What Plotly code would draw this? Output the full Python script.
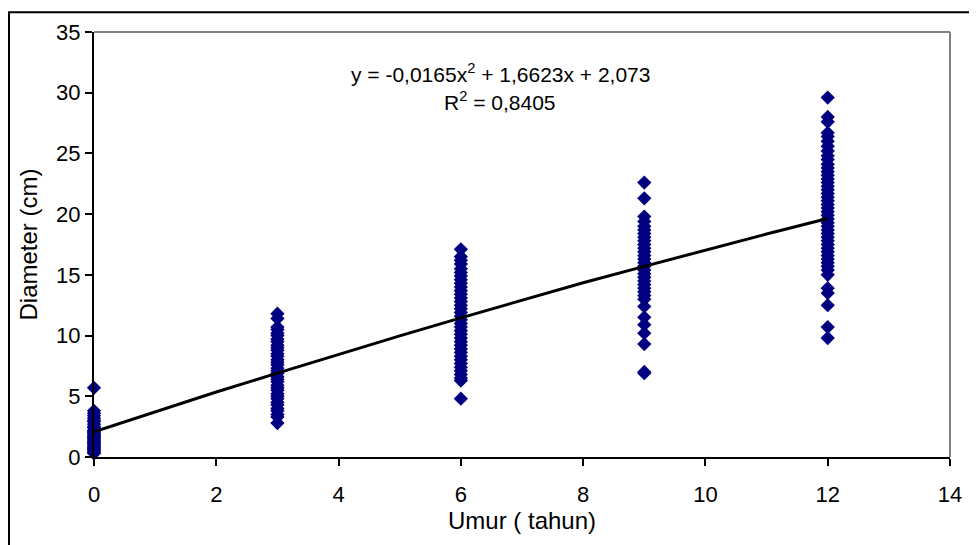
import plotly.graph_objects as go

# ---- data ----
age_0 = [5.7, 3.8, 3.6, 3.4, 3.2, 3.0, 2.9, 2.7, 2.5, 2.4, 2.2, 2.1, 2.0, 1.9, 1.8,
         1.7, 1.6, 1.5, 1.4, 1.3, 1.2, 1.1, 1.0, 0.9, 0.8, 0.7, 0.6, 0.5, 0.4, 0.3]
age_3 = [11.8, 11.4, 10.7, 10.5, 10.2, 10.0, 9.7, 9.5, 9.2, 9.0, 8.8, 8.5, 8.3, 8.0,
         7.8, 7.6, 7.3, 7.1, 6.9, 6.6, 6.4, 6.2, 5.9, 5.7, 5.5, 5.2, 5.0, 4.8, 4.5,
         4.3, 4.0, 3.8, 3.5, 3.3, 2.8]
age_6 = [17.1, 16.5, 16.2, 15.9, 15.5, 15.2, 14.9, 14.6, 14.3, 14.0, 13.7, 13.4, 13.1,
         12.8, 12.5, 12.2, 11.9, 11.6, 11.3, 11.0, 10.7, 10.4, 10.1, 9.8, 9.5, 9.2,
         8.9, 8.6, 8.3, 8.0, 7.7, 7.4, 7.1, 6.8, 6.5, 6.3, 4.8]
age_9 = [22.6, 21.3, 19.8, 19.4, 19.0, 18.7, 18.4, 18.1, 17.8, 17.5, 17.2, 16.9, 16.6,
         16.3, 16.0, 15.7, 15.4, 15.1, 14.8, 14.5, 14.2, 13.9, 13.6, 13.3, 13.0, 12.4,
         11.5, 10.9, 10.2, 9.3, 7.0, 6.9]
age_12 = [29.6, 28.0, 27.6, 26.7, 26.4, 26.0, 25.6, 25.2, 24.8, 24.5, 24.1, 23.8, 23.5,
          23.2, 22.9, 22.6, 22.3, 22.0, 21.7, 21.4, 21.1, 20.8, 20.5, 20.2, 19.9, 19.6,
          19.3, 19.0, 18.7, 18.4, 18.1, 17.8, 17.5, 17.2, 16.9, 16.6, 16.3, 16.0, 15.7,
          15.4, 15.0, 13.9, 13.5, 12.5, 10.7, 9.8]
ages = [0, 3, 6, 9, 12]
groups = [age_0, age_3, age_6, age_9, age_12]

trend_x = [0, 1, 2, 3, 4, 5, 6, 7, 8, 9, 10, 11, 12]
trend_y = [2.07, 3.72, 5.35, 6.91, 8.46, 9.98, 11.46, 12.91, 14.35, 15.70, 17.05, 18.36, 19.64]

x_ticks = [0, 2, 4, 6, 8, 10, 12, 14]
y_ticks = [0, 5, 10, 15, 20, 25, 30, 35]

eq_text = "y = -0,0165x<sup>2</sup> + 1,6623x + 2,073"
r2_text = "R<sup>2</sup> = 0,8405"

# ---- figure ----
xs, ys = [], []
for a, g in zip(ages, groups):
    xs += [a] * len(g)
    ys += g

FONT = "Liberation Sans, Arial, sans-serif"

fig = go.Figure()
fig.add_trace(go.Scatter(
    x=xs, y=ys, mode="markers",
    marker=dict(symbol="diamond", size=11, color="#000080", line=dict(width=0)),
    cliponaxis=False, showlegend=False, hoverinfo="x+y"))
fig.add_trace(go.Scatter(
    x=trend_x, y=trend_y, mode="lines",
    line=dict(color="black", width=3), cliponaxis=False, showlegend=False))

# page has an 8px body margin; figure origin sits at (8, 8)
OFF = 8
W, H = 977, 545
ml, mr, mt, mb = 94 - OFF, 977 - 950 + OFF, 29 - OFF, 545 - 457 + OFF
pw, ph = W - ml - mr, H - mt - mb

def px_x(p):  # page pixel -> paper x
    return (p - OFF - ml) / pw

def px_y(p):  # page pixel -> paper y
    return (H - mb - (p - OFF)) / ph

fig.update_layout(
    width=W, height=H,
    margin=dict(l=ml, r=mr, t=mt, b=mb, pad=0),
    paper_bgcolor="white", plot_bgcolor="white",
    font=dict(family=FONT, size=20, color="black"),
    xaxis=dict(range=[0, 14], tickvals=x_ticks, ticks="outside", ticklen=7,
               tickcolor="black", tickwidth=2, showline=True, linecolor="black",
               linewidth=2, showgrid=False, zeroline=False,
               tickfont=dict(size=22), ticklabelstandoff=10,
               title=dict(text="Umur ( tahun)", font=dict(size=24), standoff=6)),
    yaxis=dict(range=[0, 35], tickvals=y_ticks, ticks="outside", ticklen=7,
               tickcolor="black", tickwidth=2, showline=True, linecolor="black",
               linewidth=2, showgrid=False, zeroline=False,
               tickfont=dict(size=22),
               title=dict(text="Diameter (cm)", font=dict(size=24), standoff=12)),
    shapes=[
        dict(type="line", xref="paper", yref="paper", x0=0, x1=1, y0=1, y1=1,
             line=dict(color="#808080", width=2)),
        dict(type="line", xref="paper", yref="paper", x0=1, x1=1, y0=0, y1=1,
             line=dict(color="#808080", width=2)),
        dict(type="rect", xref="paper", yref="paper",
             x0=px_x(9), x1=px_x(1000), y0=px_y(9), y1=px_y(600),
             line=dict(color="black", width=2), layer="below"),
    ],
    annotations=[
        dict(text=eq_text, xref="paper", yref="paper", x=px_x(500), y=px_y(70),
             showarrow=False, xanchor="center", yanchor="middle", font=dict(size=21)),
        dict(text=r2_text, xref="paper", yref="paper", x=px_x(500), y=px_y(98),
             showarrow=False, xanchor="center", yanchor="middle", font=dict(size=21)),
    ],
)

fig.write_html("out.html")
